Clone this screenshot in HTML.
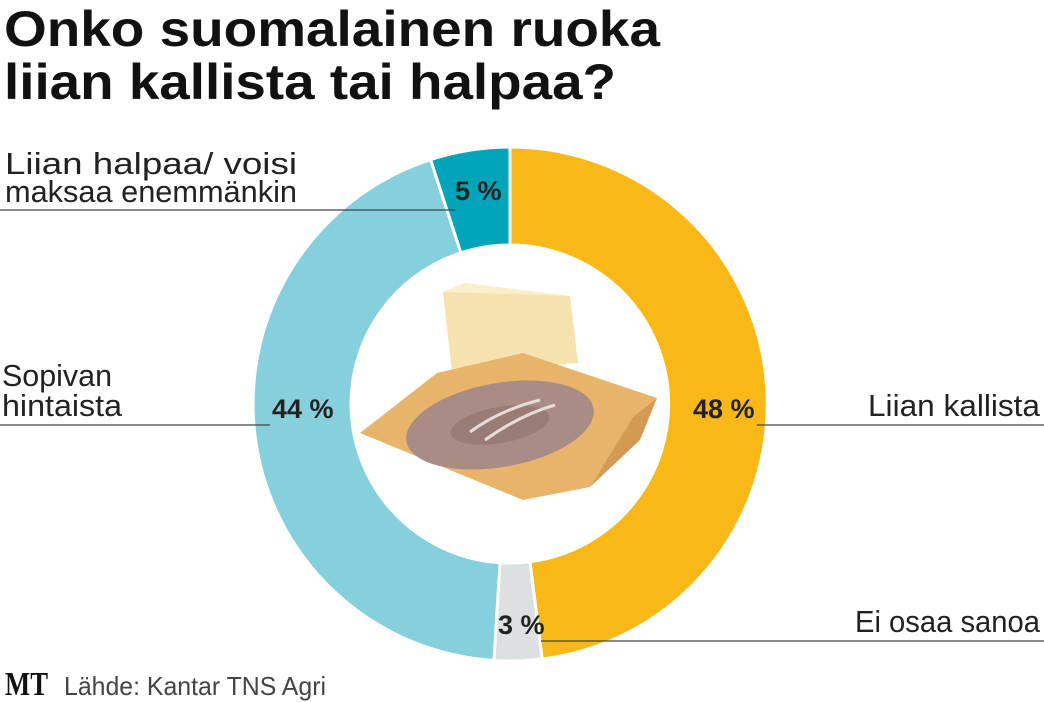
<!DOCTYPE html>
<html><head><meta charset="utf-8"><style>
html,body{margin:0;padding:0;background:#fff;}
svg{display:block;}
</style></head><body>
<svg width="1044" height="702" viewBox="0 0 1044 702" xmlns="http://www.w3.org/2000/svg" font-family="Liberation Sans, sans-serif">
<rect width="1044" height="702" fill="#fff"/>
<text x="4" y="46" font-size="50" font-weight="bold" fill="#111" textLength="656" lengthAdjust="spacingAndGlyphs">Onko suomalainen ruoka</text>
<text x="4" y="99" font-size="50" font-weight="bold" fill="#111" textLength="612" lengthAdjust="spacingAndGlyphs">liian kallista tai halpaa?</text>
<g stroke="#fff" stroke-width="3">
<path d="M510,147 A257,257 0 0 1 542.2,659 L529.9,561.7 A159,159 0 0 0 510,245 Z" fill="#F9B817"/>
<path d="M542.2,659 A257,257 0 0 1 493.9,660.5 L500,562.7 A159,159 0 0 0 529.9,561.7 Z" fill="#DDE0E1"/>
<path d="M493.9,660.5 A257,257 0 0 1 430.6,159.6 L460.9,252.8 A159,159 0 0 0 500,562.7 Z" fill="#85D0DC"/>
<path d="M430.6,159.6 A257,257 0 0 1 510,147 L510,245 A159,159 0 0 0 460.9,252.8 Z" fill="#00A5B9"/>
</g>
<polygon points="443,292 465,283 570,296 578,363 452,372" fill="#F6E2AE"/>
<polygon points="443,292 465,283 570,296" fill="#FBEFCB"/>
<polygon points="360,433 437,373 523,353 657,398 633,417 590,487 523,500" fill="#E7B46A"/>
<polygon points="590,487 633,417 657,398 640,440" fill="#D29A52"/>
<ellipse cx="500" cy="425" rx="95" ry="42" transform="rotate(-10 500 425)" fill="#A98C86"/>
<ellipse cx="500" cy="425" rx="50" ry="18" transform="rotate(-10 500 425)" fill="#9A7C77"/>
<path d="M470,432 Q500,410 540,400 M485,440 Q520,415 555,405" stroke="#E6DCD8" stroke-width="3" fill="none"/>
<g font-size="31" fill="#222">
<text x="5" y="174" textLength="292" lengthAdjust="spacingAndGlyphs">Liian halpaa/ voisi</text>
<text x="5" y="202" textLength="292" lengthAdjust="spacingAndGlyphs">maksaa enemmänkin</text>
<text x="2" y="386" textLength="110" lengthAdjust="spacingAndGlyphs">Sopivan</text>
<text x="2" y="416" textLength="120" lengthAdjust="spacingAndGlyphs">hintaista</text>
<text x="868" y="416" textLength="172" lengthAdjust="spacingAndGlyphs">Liian kallista</text>
<text x="855" y="632" textLength="185" lengthAdjust="spacingAndGlyphs">Ei osaa sanoa</text>
</g>
<g stroke="#444" stroke-width="1.2">
<line x1="0" y1="210" x2="455" y2="210"/>
<line x1="0" y1="425" x2="270" y2="425"/>
<line x1="757" y1="425" x2="1044" y2="425"/>
<line x1="541" y1="641" x2="1044" y2="641"/>
</g>
<g font-size="27" font-weight="bold" fill="#222">
<text x="455" y="200">5 %</text>
<text x="272" y="418">44 %</text>
<text x="693" y="418">48 %</text>
<text x="498" y="634">3 %</text>
</g>
<text x="5" y="695" font-family="Liberation Serif, serif" font-size="34" font-weight="bold" fill="#111" textLength="43" lengthAdjust="spacingAndGlyphs">MT</text>
<text x="64" y="695" font-size="26" fill="#444" textLength="262" lengthAdjust="spacingAndGlyphs">Lähde: Kantar TNS Agri</text>
</svg>
</body></html>
